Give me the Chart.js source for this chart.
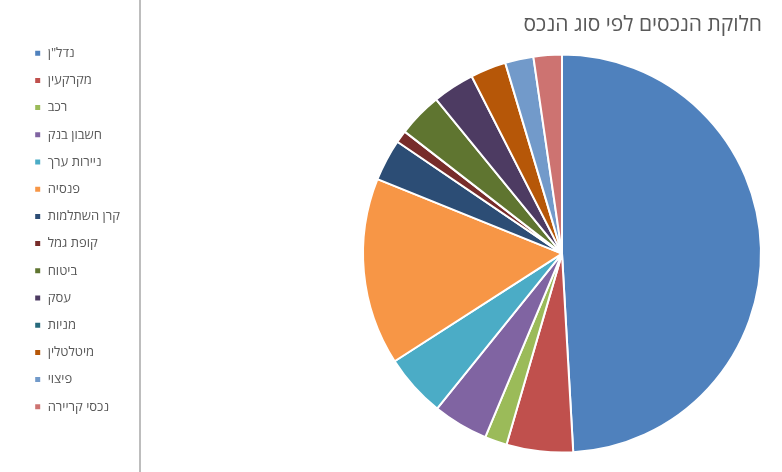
<!DOCTYPE html>
<html>
<head>
<meta charset="utf-8">
<script src="https://cdn.jsdelivr.net/npm/chart.js@4/dist/chart.umd.min.js"></script>
<style>
	body { margin: 0; background: #fff; }
	#wrap { position: relative; width: 782px; height: 472px; }
	#divider { position: absolute; left: 139px; top: 0; width: 2px; height: 472px; background: #bdbdbd; }
</style>
</head>
<body>
<div id="wrap">
	<canvas id="chart" width="782" height="472"></canvas>
	<div id="divider"></div>
</div>
<script>
const title = 'חלוקת הנכסים לפי סוג הנכס';
const labels = ['נדל"ן', 'מקרקעין', 'רכב', 'חשבון בנק', 'ניירות ערך', 'פנסיה', 'קרן השתלמות',
	'קופת גמל', 'ביטוח', 'עסק', 'מניות', 'מיטלטלין', 'פיצוי', 'נכסי קריירה'];
const values = [49.1, 5.4, 1.8, 4.5, 5.1, 15.2, 3.4, 1.0, 3.6, 3.4, 0, 2.9, 2.3, 2.3];
const colors = ['#4f81bd', '#c0504d', '#9bbb59', '#8064a2', '#4bacc6', '#f79646', '#2c4d75',
	'#772c2a', '#5f7530', '#4d3b62', '#276a7c', '#b65708', '#729aca', '#cd7371'];

// force the legend box to a fixed width so the pie sits where it does in the picture
const legendWidth = {
	id: 'legendWidth',
	afterInit(chart) {
		const orig = chart.legend.fit;
		chart.legend.fit = function () {
			orig.call(this);
			this.width = 342;
		};
	},
};

const pie = new Chart(document.getElementById('chart'), {
	type: 'pie',
	data: {
		labels,
		datasets: [{ data: values, backgroundColor: colors, borderColor: '#fff', borderWidth: 2 }],
	},
	plugins: [legendWidth],
	options: {
		responsive: false,
		animation: false,
		layout: { padding: { left: 20, right: 20, top: 0, bottom: 12 } },
		plugins: {
			title: {
				display: true, text: title, align: 'end', color: '#595959',
				font: { family: 'Open Sans', size: 21, weight: 'normal' },
				padding: { top: 12, bottom: 10 },
			},
			legend: {
				position: 'left', align: 'center',
				labels: {
					boxWidth: 7, boxHeight: 7, padding: 14.2, color: '#595959',
					font: { family: 'Open Sans', size: 13 },
				},
			},
			tooltip: { enabled: false },
		},
	},
});
</script>
</body>
</html>
